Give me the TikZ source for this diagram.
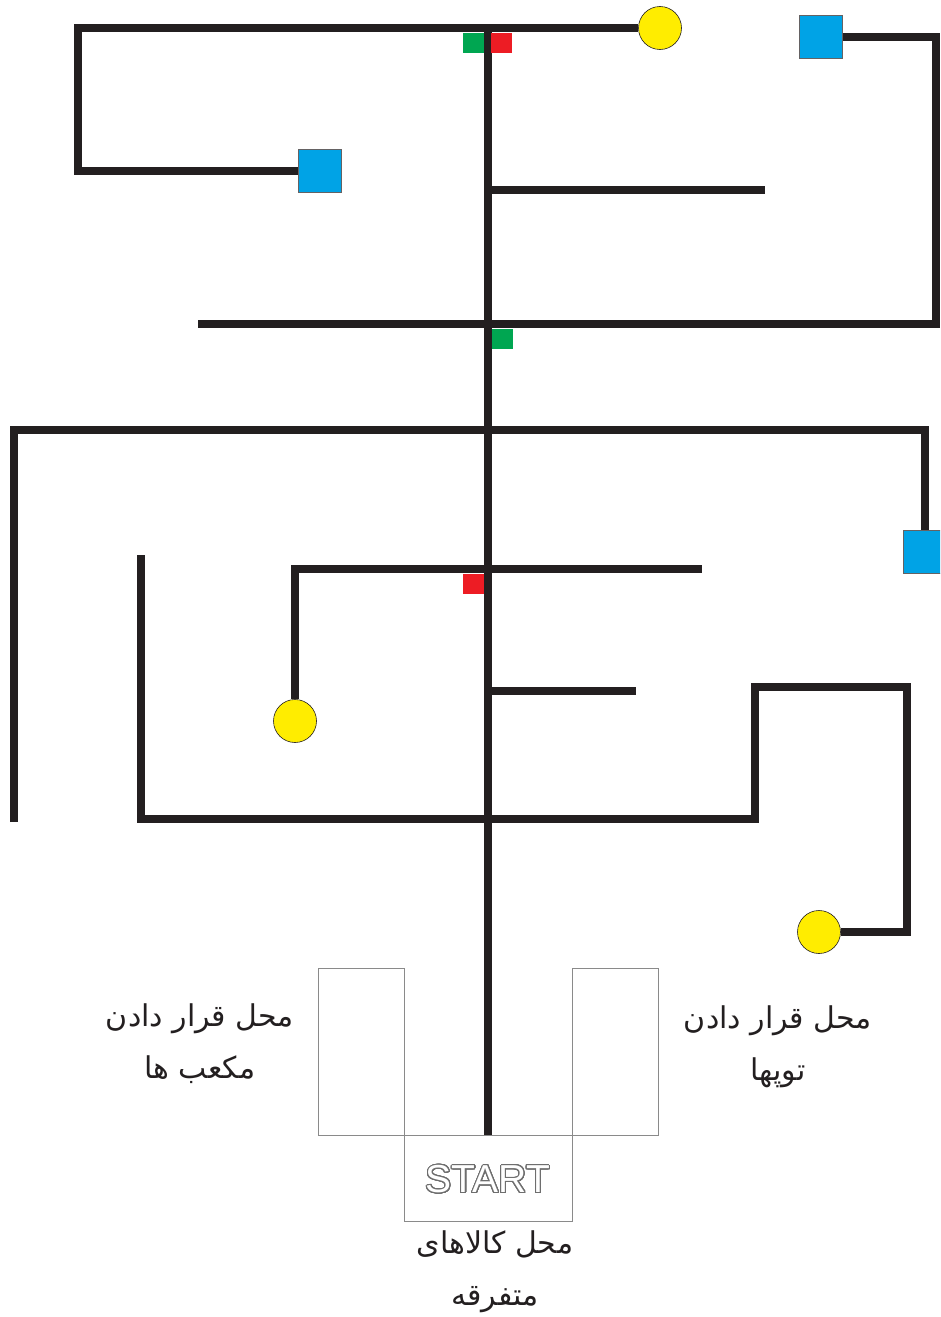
\documentclass[tikz,border=0pt]{standalone}
\usepackage{fontspec}
\usepackage{contour}
\setmainfont{DejaVu Sans}
\newfontfamily\arabicfont[Script=Arabic]{DejaVu Sans}
\newfontfamily\startfont{Liberation Sans}
\TeXXeTstate=1
\definecolor{trk}{HTML}{231F20}
\definecolor{yel}{HTML}{FFED00}
\definecolor{blu}{HTML}{00A3E6}
\definecolor{grn}{HTML}{00A651}
\definecolor{rd}{HTML}{ED1C24}
\definecolor{zonegray}{HTML}{8A8A8A}
\contourlength{1.1pt}
\contournumber{32}
\begin{document}
\begin{tikzpicture}[x=1pt,y=-1pt,
  track/.style={draw=trk, line width=8pt},
  ball/.style={circle, fill=yel, draw=trk, line width=0.6pt, minimum size=43pt, inner sep=0pt},
  bluebox/.style={rectangle, fill=blu, draw=trk!70, line width=0.6pt, minimum size=43pt, inner sep=0pt},
  flagg/.style={rectangle, inner sep=0pt, minimum width=21pt, minimum height=20pt},
  zone/.style={rectangle, draw=zonegray, line width=1pt, inner sep=0pt},
  lbl/.style={align=center, text=trk, font=\arabicfont\fontsize{30}{52}\selectfont}
]
\useasboundingbox (0,0) rectangle (940,1317);
\clip (0,0) rectangle (940,1317);

% zones
\node[zone, minimum width=86pt, minimum height=167pt] (lz) at (361,1051.5) {};
\node[zone, minimum width=86pt, minimum height=167pt] (rz) at (615,1051.5) {};
\node[zone, minimum width=168pt, minimum height=86pt] (sz) at (488,1178) {};

% objects
\node[ball] (c1) at (660,28) {};
\node[ball] (c2) at (295,721) {};
\node[ball] (c3) at (819,932) {};
\node[bluebox] (s1) at (320,171) {};
\node[bluebox] (s2) at (821,37) {};
\node[bluebox] (s3) at (925,552) {};

\coordinate (top) at (488,28);
\coordinate (bot) at (488,1135);

% spine
\draw[track] (top) -- (bot);
% top line
\draw[track] (c1.west) -- (78,28) -- (78,171) -- (s1.west);
% right line
\draw[track] (s2.east) -- (936,37) -- (936,324) -- (198,324);
% branch 1
\draw[track] (488,190) -- (765,190);
% line at 430
\draw[track] (14,822) -- (14,430) -- (925,430) -- (s3.north);
% line at 569
\draw[track] (c2.north) -- (295,569) -- (702,569);
% branch 2
\draw[track] (488,691) -- (636,691);
% bottom loop
\draw[track] (141,555) -- (141,819) -- (755,819) -- (755,687) -- (907,687) -- (907,932) -- (c3.east);

% markers
\node[flagg, fill=grn] (g1) at (473.5,43) {};
\node[flagg, fill=rd] (r1) at (501.5,43) {};
\node[flagg, fill=grn] (g2) at (502,338.5) {};
\node[flagg, fill=rd] (r2) at (473.5,583.5) {};

% texts
\node (st) at (488,1180) {\startfont\fontsize{39}{39}\selectfont\contour{zonegray!80!black}{\textcolor{white}{START}}};
\node[lbl] (ll) at (200,1044) {\beginR محل قرار دادن\endR\\\beginR مکعب ها\endR};
\node[lbl] (rl) at (778,1047) {\beginR محل قرار دادن\endR\\\beginR توپها\endR};
\node[lbl] (bl) at (495,1272) {\beginR محل کالاهای\endR\\\beginR متفرقه\endR};
\end{tikzpicture}
\end{document}
